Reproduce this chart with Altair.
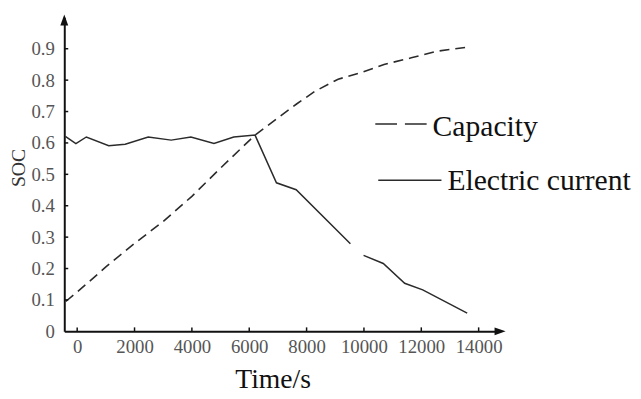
import altair as alt
import pandas as pd

# ---- data ----
cap_t = [-400, 0, 1000, 2000, 3000, 4000, 5000, 6200, 7000, 7650, 8300, 9100, 9900, 10700, 11650, 12550, 13600]
cap_v = [0.095, 0.125, 0.205, 0.28, 0.35, 0.43, 0.52, 0.625, 0.68, 0.724, 0.765, 0.803, 0.824, 0.85, 0.871, 0.892, 0.905]

cur_t = [-413, -45, 320, 1100, 1675, 2477, 3278, 3966, 4770, 5460, 6202, 6949, 7637, 9528,
         9987, 10674, 11420, 12050, 13600]
cur_v = [0.621, 0.598, 0.619, 0.591, 0.596, 0.619, 0.609, 0.619, 0.598, 0.619, 0.625, 0.473, 0.451, 0.279,
         0.242, 0.216, 0.153, 0.132, 0.058]
cur_seg = ["a"] * 14 + ["b"] * 5

x_ticks = [0, 2000, 4000, 6000, 8000, 10000, 12000, 14000]
y_ticks = [0, 0.1, 0.2, 0.3, 0.4, 0.5, 0.6, 0.7, 0.8, 0.9]
series_names = ["Capacity", "Electric current"]

W, H = 440, 318
FONT = "Liberation Serif"
INK = "#2b2b2b"

cap_df = pd.DataFrame({"t": cap_t, "v": cap_v})
cur_df = pd.DataFrame({"t": cur_t, "v": cur_v, "seg": cur_seg})
xt_df = pd.DataFrame({"t": x_ticks})
yt_df = pd.DataFrame({"v": y_ticks[1:]})
one = pd.DataFrame({"k": [0]})

xscale = alt.Scale(domain=[-450, 14700], nice=False, zero=False)
yscale = alt.Scale(domain=[0, 1.0], nice=False)

xaxis = alt.Axis(values=x_ticks, format="d", grid=False, tickSize=0, labelPadding=6,
                 domainColor="#111", domainWidth=2, labelFont=FONT, labelFontSize=19,
                 labelColor="#555", labelFlush=False, labelOverlap=False,
                 title="Time/s", titleFont=FONT, titleFontSize=28, titleFontWeight="normal",
                 titleColor="#111", titleX=211, titleY=57, titleAlign="center",
                 titleBaseline="alphabetic", titleAnchor="start")
yaxis = alt.Axis(values=y_ticks, format=".1~f", grid=False, tickSize=0, labelPadding=10,
                 domainColor="#111", domainWidth=2, labelFont=FONT, labelFontSize=19,
                 labelColor="#555", labelFlush=False, labelOverlap=False,
                 title="SOC", titleFont=FONT, titleFontSize=20, titleFontWeight="normal",
                 titleColor="#333", titleX=-46, titleY=152, titleAngle=270,
                 titleAlign="center", titleBaseline="middle", titleAnchor="start")

X = lambda f: alt.X(f, scale=xscale, axis=xaxis)
Y = lambda f: alt.Y(f, scale=yscale, axis=yaxis)

cap_line = alt.Chart(cap_df).mark_line(color=INK, strokeWidth=1.6, strokeDash=[10, 6]).encode(
    x=X("t:Q"), y=Y("v:Q"))
cur_line = alt.Chart(cur_df).mark_line(color=INK, strokeWidth=1.5).encode(
    x=X("t:Q"), y=Y("v:Q"), detail="seg:N")

xticks = alt.Chart(xt_df).mark_rule(color="#111", strokeWidth=1.5).encode(
    x=X("t:Q"), y=alt.value(H), y2=alt.value(H - 4))
yticks = alt.Chart(yt_df).mark_rule(color="#111", strokeWidth=1.5).encode(
    y=Y("v:Q"), x=alt.value(0), x2=alt.value(4))

up_arrow = alt.Chart(one).mark_point(shape="M0,-1L0.5,0.4L-0.5,0.4Z", filled=True, size=256,
                                     color="#111", opacity=1).encode(
    x=alt.value(0), y=alt.value(5))
right_arrow = alt.Chart(one).mark_point(shape="M1,0L-0.4,0.5L-0.4,-0.5Z", filled=True, size=256,
                                        color="#111", opacity=1).encode(
    x=alt.value(439), y=alt.value(H))

leg_df = pd.DataFrame({"name": series_names})
leg_dash = alt.Chart(leg_df.iloc[[0]]).mark_rule(color=INK, strokeWidth=1.6, strokeDash=[22, 8]).encode(
    x=alt.value(315), x2=alt.value(368), y=alt.value(108))
leg_solid = alt.Chart(leg_df.iloc[[1]]).mark_rule(color=INK, strokeWidth=1.6).encode(
    x=alt.value(318), x2=alt.value(382), y=alt.value(165))
leg_t1 = alt.Chart(leg_df.iloc[[0]]).mark_text(font=FONT, fontSize=30, color="#111", align="left",
                                               baseline="alphabetic").encode(
    x=alt.value(373), y=alt.value(120), text="name:N")
leg_t2 = alt.Chart(leg_df.iloc[[1]]).mark_text(font=FONT, fontSize=30, color="#111", align="left",
                                               baseline="alphabetic").encode(
    x=alt.value(388), y=alt.value(175), text="name:N")

chart = alt.layer(cap_line, cur_line, xticks, yticks, up_arrow, right_arrow,
                  leg_dash, leg_solid, leg_t1, leg_t2).properties(
    width=W, height=H, background="white",
    autosize=alt.AutoSizeParams(type="none"),
    padding={"left": 57, "top": 7, "right": 136, "bottom": 60},
).configure_view(stroke=None)

chart.save("out.html", embed_options={"renderer": "svg", "actions": False})
